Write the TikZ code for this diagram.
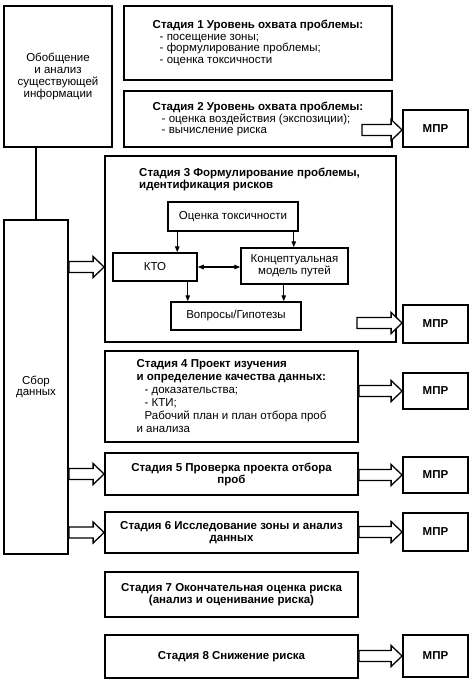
\documentclass[tikz,border=0pt]{standalone}
\usepackage{fontspec}
\setmainfont{Liberation Sans}
\usetikzlibrary{arrows.meta, positioning, calc}

% hollow block arrow from a tail point to the x of a tip point
\newcommand{\blockarrow}[2]{%
  \draw[hollowarrow] let \p1=(#1), \p2=(#2) in
    (\x1,\y1+5.5pt) -- (\x2-11pt,\y1+5.5pt) -- (\x2-11pt,\y1+10.5pt) -- (\x2,\y1)
    -- (\x2-11pt,\y1-10.5pt) -- (\x2-11pt,\y1-5.5pt) -- (\x1,\y1-5.5pt) -- cycle;}

\begin{document}
\begin{tikzpicture}[
    x=1pt, y=-1pt,
    box/.style={rectangle, draw, line width=1.8pt, inner sep=2pt, align=center,
                font=\fontsize{11.5}{12}\selectfont},
    stagebox/.style={box, minimum width=253pt},
    boldbox/.style={stagebox, font=\fontsize{11.5}{12}\selectfont\bfseries},
    mprbox/.style={box, minimum width=65pt, font=\fontsize{11.5}{12}\selectfont\bfseries},
    innerbox/.style={box, line width=1.5pt},
    arrow/.style={-{Triangle[length=6pt, width=4.5pt]}, line width=1.2pt},
    dblarrow/.style={{Triangle[length=6pt, width=4.5pt]}-{Triangle[length=6pt, width=4.5pt]}, line width=1.2pt},
    hollowarrow/.style={draw, fill=white, line width=1.3pt, line join=miter},
]
  \useasboundingbox (0,0) rectangle (472,683);

  % left column
  \node[box, minimum width=108pt, minimum height=141pt] (info) at (58,76.5)
    {Обобщение\\и анализ\\существующей\\информации};
  \node[box, minimum width=64pt, minimum height=334pt, font=\fontsize{11.5}{11.5}\selectfont] (coll) at (36,387)
    {Сбор\\данных};
  \draw[line width=1.8pt] (coll.north) -- (coll.north |- info.south);

  % Stage 1 and 2
  \node[box, minimum width=268pt, minimum height=74pt, align=left,
        font=\fontsize{11.5}{11.4}\selectfont] (s1) at (258,43)
    {{\bfseries Стадия 1 Уровень охвата проблемы:}\\
     \hspace*{7pt}- посещение зоны;\\
     \hspace*{7pt}- формулирование проблемы;\\
     \hspace*{7pt}- оценка токсичности};
  \node[box, minimum width=268pt, minimum height=56pt, align=left,
        font=\fontsize{11.5}{11.5}\selectfont] (s2) at (258,119)
    {{\bfseries Стадия 2 Уровень охвата проблемы:}\\
     \hspace*{9pt}- оценка воздействия (экспозиции);\\
     \hspace*{9pt}- вычисление риска};
  \node[mprbox, minimum height=37pt] (mpr2) at (435.5,128.5) {МПР};

  % Stage 3
  \node[box, minimum width=291pt, minimum height=186pt] (s3) at (250.5,249) {};
  \node[anchor=north west, inner sep=0pt, align=left,
        font=\fontsize{11.5}{12}\selectfont\bfseries] (s3title) at (139,168)
    {Стадия 3 Формулирование проблемы,\\идентификация рисков};
  \node[innerbox, minimum width=130pt, minimum height=29pt] (tox) at (233,216.5) {Оценка токсичности};
  \node[innerbox, minimum width=84pt, minimum height=28pt] (kto) at (155,267) {КТО};
  \node[innerbox, minimum width=107pt, minimum height=36pt] (cmodel) at (294.5,266)
    {Концептуальная\\модель путей};
  \node[innerbox, minimum width=130pt, minimum height=28pt] (quest) at (236,316) {Вопросы/Гипотезы};
  \node[mprbox, minimum height=38pt] (mpr3) at (435.5,324) {МПР};

  \draw[arrow] ([xshift=10pt]tox.south west) -- ([xshift=10pt]tox.south west |- kto.north);
  \draw[arrow] ([xshift=-5pt]tox.south east) -- ([xshift=-5pt]tox.south east |- cmodel.north);
  \draw[dblarrow] (kto.east) -- (kto.east -| cmodel.west);
  \draw[arrow] ([xshift=-10pt]kto.south east) -- ([xshift=-10pt]kto.south east |- quest.north);
  \draw[arrow] ([xshift=-18pt]quest.north east |- cmodel.south) -- ([xshift=-18pt]quest.north east);

  % Stages 4--8
  \node[stagebox, minimum height=91pt, align=left, font=\fontsize{11.5}{13}\selectfont] (s4) at (231.5,396.5)
    {{\bfseries Стадия 4 Проект изучения}\\
     {\bfseries и определение качества данных:}\\
     \hspace*{8pt}- доказательства;\\
     \hspace*{8pt}- КТИ;\\
     \hspace*{8pt}Рабочий план и план отбора проб\\
     и анализа};
  \node[boldbox, minimum height=42pt] (s5) at (231.5,474)
    {Стадия 5 Проверка проекта отбора\\проб};
  \node[boldbox, minimum height=41pt] (s6) at (231.5,532.5)
    {Стадия 6 Исследование зоны и анализ\\данных};
  \node[boldbox, minimum height=45pt] (s7) at (231.5,594.5)
    {Стадия 7 Окончательная оценка риска\\(анализ и оценивание риска)};
  \node[boldbox, minimum height=43pt] (s8) at (231.5,656.5)
    {Стадия 8 Снижение риска};

  \node[mprbox, minimum height=36pt] (mpr4) at (435.5,391) {МПР};
  \node[mprbox, minimum height=36pt] (mpr5) at (435.5,475) {МПР};
  \node[mprbox, minimum height=38pt] (mpr6) at (435.5,532) {МПР};
  \node[mprbox, minimum height=42pt] (mpr8) at (435.5,656) {МПР};

  % block arrows
  \coordinate (s2out) at (362,130);
  \coordinate (s3out) at (357,323);
  \blockarrow{s2out}{mpr2.west}
  \blockarrow{s3out}{mpr3.west}
  \blockarrow{s4.east |- mpr4}{mpr4.west}
  \blockarrow{s5.east |- mpr5}{mpr5.west}
  \blockarrow{s6.east |- mpr6}{mpr6.west}
  \blockarrow{s8.east |- mpr8}{mpr8.west}
  \blockarrow{coll.east |- kto}{s3.west}
  \blockarrow{coll.east |- s5}{s5.west}
  \blockarrow{coll.east |- s6}{s6.west}
\end{tikzpicture}
\end{document}
